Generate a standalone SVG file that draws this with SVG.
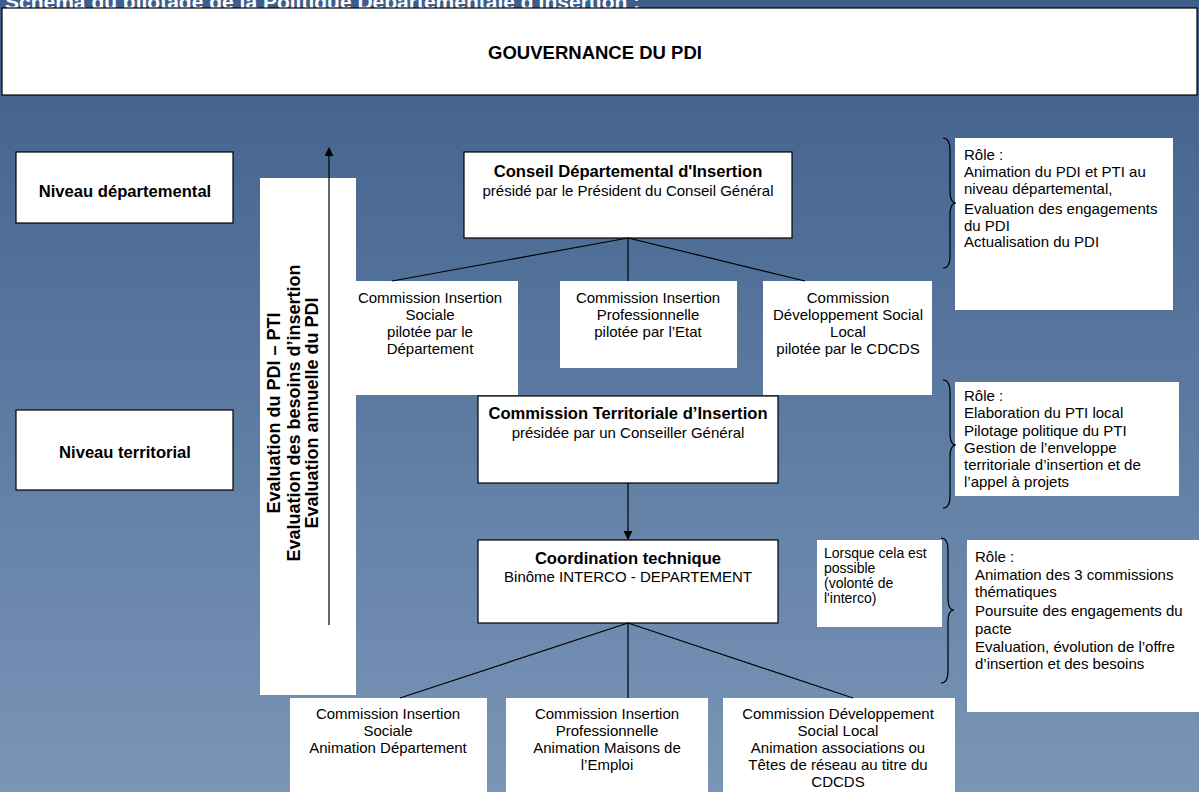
<svg xmlns="http://www.w3.org/2000/svg" width="1199" height="792" viewBox="0 0 1199 792">
  <defs>
    <linearGradient id="bg" x1="0" y1="0" x2="0" y2="1">
      <stop offset="0" stop-color="#3d5e8a"/>
      <stop offset="1" stop-color="#7a95b7"/>
    </linearGradient>
    <marker id="head" viewBox="0 0 10 10" refX="9" refY="5" markerWidth="9" markerHeight="9" markerUnits="userSpaceOnUse" orient="auto">
      <path d="M0,0 L10,5 L0,10 z" fill="#000"/>
    </marker>
    <style>
      text { font-family: "Liberation Sans", Arial, sans-serif; fill: #000; }
      .box { fill: #fff; stroke: #000; stroke-width: 1.2; }
      .plain { fill: #fff; }
      .b { font-weight: bold; font-size: 16.6px; }
      .r { font-size: 15px; }
      .s { font-size: 14px; }
      .c { text-anchor: middle; }
      .link { stroke: #000; stroke-width: 1.2; fill: none; }
      .brace { stroke: #000; stroke-width: 1.2; fill: none; }
    </style>
  </defs>

  <rect x="0" y="0" width="1199" height="792" fill="url(#bg)"/>

  <!-- heading, partly above the page edge -->
  <text x="5" y="9" font-size="21" font-weight="bold" style="fill:#fff">Schéma du pilotage de la Politique Départementale d'Insertion :</text>

  <g id="gouvernance">
    <rect class="box" x="2" y="8" width="1195" height="87"/>
    <text class="c" x="595" y="59" font-size="18.5" font-weight="bold">GOUVERNANCE DU PDI</text>
  </g>

  <g id="niveau-departemental">
    <rect class="box" x="16" y="152" width="217" height="71"/>
    <text class="b c" x="125" y="197">Niveau départemental</text>
  </g>

  <g id="niveau-territorial">
    <rect class="box" x="16" y="410" width="217" height="80"/>
    <text class="b c" x="125" y="458">Niveau territorial</text>
  </g>

  <g id="evaluation">
    <rect class="plain" x="260" y="178" width="96" height="517"/>
    <g transform="translate(0,413) rotate(-90)" font-size="18" font-weight="bold">
      <text class="c" x="0" y="280">Evaluation du PDI – PTI</text>
      <text class="c" x="0" y="299.5">Evaluation des besoins d’insertion</text>
      <text class="c" x="0" y="318">Evaluation annuelle du PDI</text>
    </g>
  </g>

  <g id="cdi">
    <rect class="box" x="464" y="152" width="328" height="86"/>
    <text class="b c" x="628" y="177">Conseil Départemental d'Insertion</text>
    <text class="r c" x="628" y="196">présidé par le Président du Conseil Général</text>
  </g>

  <g id="cis-dep">
    <rect class="plain" x="343" y="281" width="175" height="114"/>
    <text class="r c" x="430" y="303">Commission Insertion</text>
    <text class="r c" x="430" y="320">Sociale</text>
    <text class="r c" x="430" y="337">pilotée par le</text>
    <text class="r c" x="430" y="354">Département</text>
  </g>

  <g id="cip-dep">
    <rect class="plain" x="560" y="281" width="177" height="87"/>
    <text class="r c" x="648" y="303">Commission Insertion</text>
    <text class="r c" x="648" y="320">Professionnelle</text>
    <text class="r c" x="648" y="337">pilotée par l’Etat</text>
  </g>

  <g id="cdsl-dep">
    <rect class="plain" x="763" y="281" width="169" height="114"/>
    <text class="r c" x="848" y="303">Commission</text>
    <text class="r c" x="848" y="320">Développement Social</text>
    <text class="r c" x="848" y="337">Local</text>
    <text class="r c" x="848" y="354">pilotée par le CDCDS</text>
  </g>

  <g id="role-dep">
    <rect class="plain" x="955" y="138" width="218" height="172"/>
    <text class="r" x="964" y="160">Rôle :</text>
    <text class="r" x="964" y="177">Animation du PDI et PTI au</text>
    <text class="r" x="964" y="194">niveau départemental,</text>
    <text class="r" x="964" y="214">Evaluation des engagements</text>
    <text class="r" x="964" y="231">du PDI</text>
    <text class="r" x="964" y="247">Actualisation du PDI</text>
  </g>

  <g id="cti">
    <rect class="box" x="478" y="396" width="300" height="87"/>
    <text class="b c" x="628" y="419">Commission Territoriale d’Insertion</text>
    <text class="r c" x="628" y="438">présidée par un Conseiller Général</text>
  </g>

  <g id="role-ter">
    <rect class="plain" x="955" y="382" width="224" height="114"/>
    <text class="r" x="964" y="401">Rôle :</text>
    <text class="r" x="964" y="418">Elaboration du PTI local</text>
    <text class="r" x="964" y="436">Pilotage politique du PTI</text>
    <text class="r" x="964" y="453">Gestion de l’enveloppe</text>
    <text class="r" x="964" y="470">territoriale d’insertion et de</text>
    <text class="r" x="964" y="487">l’appel à projets</text>
  </g>

  <g id="coordination">
    <rect class="box" x="478" y="540" width="300" height="83"/>
    <text class="b c" x="628" y="564">Coordination technique</text>
    <text class="r c" x="628" y="582">Binôme INTERCO - DEPARTEMENT</text>
  </g>

  <g id="condition">
    <rect class="plain" x="817" y="540" width="125" height="87"/>
    <text class="s" x="824" y="558">Lorsque cela est</text>
    <text class="s" x="824" y="573">possible</text>
    <text class="s" x="824" y="588">(volonté de</text>
    <text class="s" x="824" y="603">l'interco)</text>
  </g>

  <g id="role-tech">
    <rect class="plain" x="967" y="540" width="232" height="172"/>
    <text class="r" x="975" y="562">Rôle :</text>
    <text class="r" x="975" y="580">Animation des 3 commissions</text>
    <text class="r" x="975" y="597">thématiques</text>
    <text class="r" x="975" y="616">Poursuite des engagements du</text>
    <text class="r" x="975" y="634">pacte</text>
    <text class="r" x="975" y="652">Evaluation, évolution de l’offre</text>
    <text class="r" x="975" y="669">d’insertion et des besoins</text>
  </g>

  <g id="cis-ter">
    <rect class="plain" x="290" y="698" width="197" height="94"/>
    <text class="r c" x="388" y="719">Commission Insertion</text>
    <text class="r c" x="388" y="736">Sociale</text>
    <text class="r c" x="388" y="753">Animation Département</text>
  </g>

  <g id="cip-ter">
    <rect class="plain" x="506" y="698" width="202" height="94"/>
    <text class="r c" x="607" y="719">Commission Insertion</text>
    <text class="r c" x="607" y="736">Professionnelle</text>
    <text class="r c" x="607" y="753">Animation Maisons de</text>
    <text class="r c" x="607" y="770">l’Emploi</text>
  </g>

  <g id="cdsl-ter">
    <rect class="plain" x="723" y="698" width="232" height="94"/>
    <text class="r c" x="838" y="719">Commission Développement</text>
    <text class="r c" x="838" y="736">Social Local</text>
    <text class="r c" x="838" y="753">Animation associations ou</text>
    <text class="r c" x="838" y="770">Têtes de réseau au titre du</text>
    <text class="r c" x="838" y="787">CDCDS</text>
  </g>

  <g id="connectors">
    <!-- evaluation arrow, upward -->
    <line class="link" x1="329" y1="625" x2="329" y2="148" marker-end="url(#head)"/>
    <!-- CDI to its commissions -->
    <line class="link" x1="628" y1="238" x2="392" y2="281"/>
    <line class="link" x1="628" y1="238" x2="628" y2="281"/>
    <line class="link" x1="628" y1="238" x2="805" y2="281"/>
    <!-- CTI to coordination -->
    <line class="link" x1="628" y1="483" x2="628" y2="539" marker-end="url(#head)"/>
    <!-- coordination to local commissions -->
    <line class="link" x1="628" y1="623" x2="400" y2="698"/>
    <line class="link" x1="628" y1="623" x2="628" y2="698"/>
    <line class="link" x1="628" y1="623" x2="853" y2="698"/>
    <!-- braces -->
    <path class="brace" d="M943,138 Q950,138 950,150 L950,191 Q950,203 956,203 Q950,203 950,215 L950,256 Q950,268 943,268"/>
    <path class="brace" d="M943,380 Q950,380 950,392 L950,433 Q950,445 956,445 Q950,445 950,457 L950,496 Q950,508 943,508"/>
    <path class="brace" d="M941,538 Q948,538 948,550 L948,598 Q948,610 954,610 Q948,610 948,622 L948,671 Q948,683 941,683"/>
  </g>
</svg>
